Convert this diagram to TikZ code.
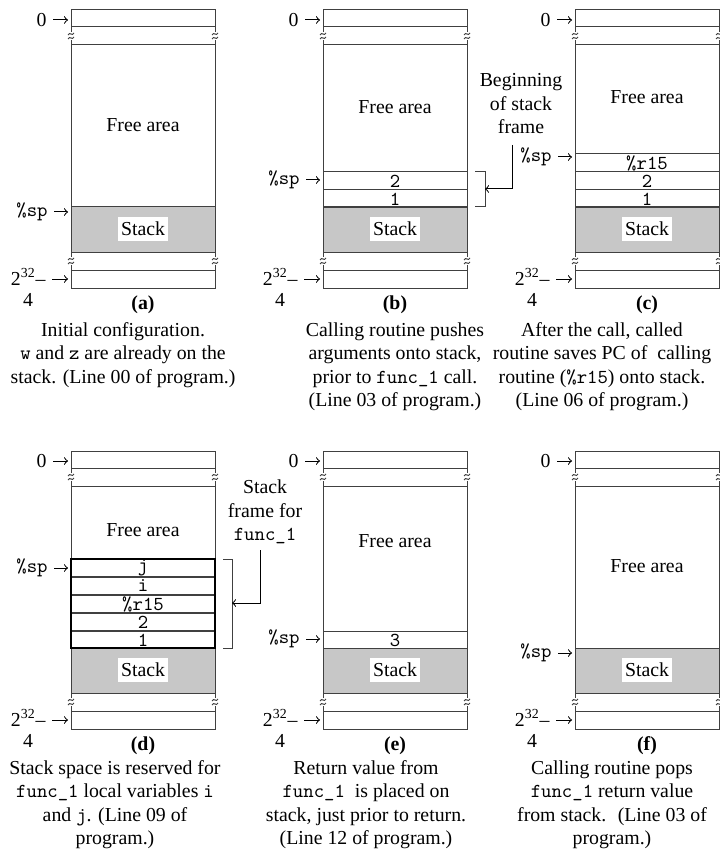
\documentclass[tikz,border=0pt]{standalone}
\usepackage{fontspec}
\setmainfont{Liberation Serif}
\usepackage{tikz}
\usetikzlibrary{arrows, positioning}

\tikzset{
  cell/.style={draw=black!75, line width=0.5pt},
  stackfill/.style={fill=black!22, draw=black!75, line width=0.5pt},
  lbl/.style={font=\fontsize{9.9}{11.75}\selectfont, inner sep=0pt},
  val/.style={font=\fontsize{9.9}{11.75}\selectfont\ttfamily, inner sep=0pt},
  ptr/.style={->, >=to, line width=0.5pt, shorten <=3pt},
  bracket/.style={draw=black!75, line width=0.5pt}
}

% petite marque de coupure sur un bord
\newcommand\brkmark[2]{%
  \draw[white, line width=2pt] (#1,#2-4) -- (#1,#2+4);
  \draw[cell] (#1-3,#2-1) .. controls (#1-1,#2-5) and (#1+1,#2+1) .. (#1+3,#2-3);
  \draw[cell] (#1-3,#2+3) .. controls (#1-1,#2-1) and (#1+1,#2+5) .. (#1+3,#2+1);
}

\begin{document}
\begin{tikzpicture}[x=0.5pt, y=-0.5pt]
    \useasboundingbox (0,0) rectangle (719,850);
    \def\w{144}   % largeur de la pile
    \def\hw{72}

    % Cadres communs des six configurations
    \foreach \col/\cx/\cy/\fy in {a/71/10/115, b/323/10/97, c/575/10/87,
                                  d/71/451/79, e/323/451/90, f/575/451/115}{
        \draw[stackfill] (\cx,\cy+197) rectangle (\cx+\w,\cy+242);
        \draw[cell] (\cx,\cy) rectangle (\cx+\w,\cy+278);
        \draw[cell] (\cx,\cy+17) -- (\cx+\w,\cy+17);
        \draw[cell] (\cx,\cy+35) -- (\cx+\w,\cy+35);
        \draw[cell] (\cx,\cy+260) -- (\cx+\w,\cy+260);
        \brkmark{\cx}{\cy+26}
        \brkmark{\cx+\w}{\cy+26}
        \brkmark{\cx}{\cy+251}
        \brkmark{\cx+\w}{\cy+251}
        \node[lbl] (free-\col) at (\cx+\hw,\cy+\fy) {Free area};
        \node[lbl, fill=white, inner xsep=1.5pt, inner ysep=2.5pt] (stk-\col) at (\cx+\hw,\cy+219) {Stack};

        % adresses 0 et 2^32-4
        \node[lbl, anchor=east] (zero-\col) at (\cx-24,\cy+10) {0};
        \coordinate (zt-\col) at (\cx-3,\cy+10);
        \draw[ptr] (zero-\col) -- (zt-\col);
        \node[lbl, anchor=east] (top-\col) at (\cx-25,\cy+267) {2\textsuperscript{32}–};
        \coordinate (tt-\col) at (\cx-3,\cy+269);
        \draw[ptr] (top-\col.east |- tt-\col) -- (tt-\col);
        \node[lbl] (four-\col) at (\cx-43,\cy+290) {4};
        \node[lbl, font=\fontsize{9.9}{11.75}\selectfont\bfseries] (tag-\col) at (\cx+\hw,\cy+295) {(\col)};
    }

    % Cases empilees
    \foreach \cx/\top/\txt in {323/172/2, 323/190/1,
                               575/154/{\%r15}, 575/172/2, 575/190/1,
                               71/559/j, 71/577/i, 71/595/{\%r15}, 71/613/2, 71/631/1,
                               323/631/3}{
        \draw[cell] (\cx,\top) rectangle (\cx+\w,\top+17.5);
        \node[val] (cell-\cx-\top) at (\cx+\hw,\top+9) {\txt};
    }
    \draw[line width=1.2pt] (71,559) rectangle (215,648);

    % Pointeur de pile
    \foreach \col/\cx/\sy in {a/71/212, b/323/180, c/575/157, d/71/568, e/323/639, f/575/653}{
        \node[val, anchor=east] (sp-\col) at (\cx-23,\sy) {\%sp};
        \coordinate (st-\col) at (\cx-3,\sy);
        \draw[ptr] (sp-\col) -- (st-\col);
    }

    % Debut du cadre de pile (b)
    \draw[bracket] (475,172) -- (485,172) -- (485,207) -- (475,207);
    \node[lbl, align=center] (begin-b) at (521,104) {Beginning\\of stack\\frame};
    \coordinate (bs-b) at (512,145);
    \coordinate (bk-b) at (485,189);
    \draw[->, >=to, line width=0.5pt] (bs-b) |- (bk-b);

    % Cadre de pile de func_1 (d)
    \draw[bracket] (223,559) -- (232,559) -- (232,648) -- (223,648);
    \node[lbl, align=center] (frame-d) at (265,512) {Stack\\frame for\\\texttt{func\_1}};
    \coordinate (bs-d) at (260,550);
    \coordinate (bk-d) at (232,603);
    \draw[->, >=to, line width=0.5pt] (bs-d) |- (bk-d);

    % Legendes
    \foreach \col/\x/\y/\txt in {
        a/123/322/{Initial configuration.\\\texttt{w} and \texttt{z} are already on the\\stack. (Line 00 of program.)},
        b/395/322/{Calling routine pushes\\arguments onto stack,\\prior to \texttt{func\_1} call.\\(Line 03 of program.)},
        c/602/322/{After the call, called\\routine saves PC of~ calling\\routine (\texttt{\%r15}) onto stack.\\(Line 06 of program.)},
        d/115/760/{Stack space is reserved for\\\texttt{func\_1} local variables \texttt{i}\\and \texttt{j}. (Line 09 of\\program.)},
        e/366/760/{Return value from\\\texttt{func\_1}~ is placed on\\stack, just prior to return.\\(Line 12 of program.)},
        f/612/760/{Calling routine pops\\\texttt{func\_1} return value\\from stack.~ (Line 03 of\\program.)}}{
        \node[lbl, align=center, anchor=north] (cap-\col) at (\x,\y) {\txt};
    }
\end{tikzpicture}
\end{document}
